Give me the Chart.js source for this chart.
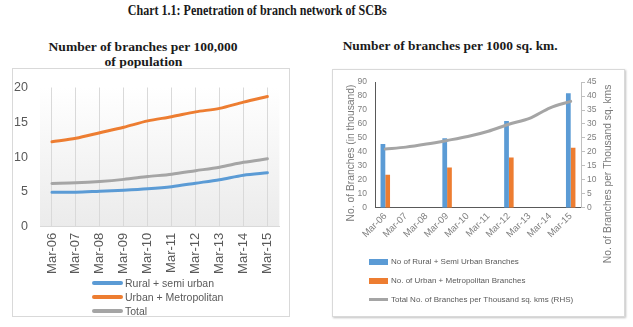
<!DOCTYPE html>
<html><head><meta charset="utf-8">
<script src="https://cdn.jsdelivr.net/npm/chart.js@4.4.1/dist/chart.umd.min.js"></script>
<style>
html,body{margin:0;padding:0;background:#fff;}
body{position:relative;width:633px;height:327px;overflow:hidden;font-family:"Liberation Sans",Arial,sans-serif;}
.ttl{position:absolute;white-space:nowrap;font-family:"Liberation Serif",serif;font-weight:bold;color:#1a1a1a;transform-origin:center center;}
.frame{position:absolute;box-sizing:border-box;border:1px solid #d9d9d9;}
canvas{position:absolute;}
.lg{position:absolute;white-space:nowrap;color:#595959;}
.sw{position:absolute;}
</style></head><body>
<div class="ttl" data-cx="257.5" data-w="259" style="top:2.5px;font-size:15px;line-height:15px">Chart 1.1: Penetration of branch network of SCBs</div>
<div class="ttl" data-cx="143" data-w="189" style="top:40px;font-size:13.5px;line-height:13.5px">Number of branches per 100,000</div>
<div class="ttl" data-cx="143" data-w="78" style="top:55px;font-size:13.5px;line-height:13.5px">of population</div>
<div class="ttl" data-cx="450.5" data-w="215" style="top:39px;font-size:13.5px;line-height:13.5px">Number of branches per 1000 sq. km.</div>

<div class="frame" style="left:12px;top:68px;width:278px;height:249px"></div>
<div class="frame" style="left:332px;top:69px;width:293px;height:248px;box-shadow:1px 1px 2px rgba(0,0,0,0.25)"></div>
<canvas id="c1" width="277" height="249" style="left:12px;top:68px"></canvas>
<canvas id="c2" width="293" height="248" style="left:332px;top:69px"></canvas>
<div id="lg1"></div>
<div id="lg2"></div>

<script>
// ---- data ----
const categories = ['Mar-06','Mar-07','Mar-08','Mar-09','Mar-10','Mar-11','Mar-12','Mar-13','Mar-14','Mar-15'];
const ruralPerPop = [4.95, 4.95, 5.1, 5.25, 5.45, 5.75, 6.25, 6.75, 7.4, 7.75];
const urbanPerPop = [12.2, 12.7, 13.5, 14.3, 15.2, 15.8, 16.5, 17.0, 17.9, 18.7];
const totalPerPop = [6.2, 6.3, 6.5, 6.8, 7.2, 7.55, 8.05, 8.55, 9.25, 9.75];
const ruralBranches = [45.6, null, null, 49.8, null, null, 62.1, null, null, 82.0];
const urbanBranches = [23.6, null, null, 28.8, null, null, 35.9, null, null, 43.0];
const branchesPerArea = [21.0, 21.7, 22.8, 24.1, 25.5, 27.4, 29.9, 32.0, 35.8, 38.1];
const popTicks = [0, 5, 10, 15, 20];
const branchTicks = [0, 10, 20, 30, 40, 50, 60, 70, 80, 90];
const areaTicks = [0, 5, 10, 15, 20, 25, 30, 35, 40, 45];

// ---- titles fit ----
document.querySelectorAll('.ttl').forEach(el => {
  const w = el.getBoundingClientRect().width;
  el.style.left = (+el.dataset.cx - w / 2) + 'px';
  el.style.transform = 'scaleX(' + (+el.dataset.w / w) + ')';
});

const BLUE = '#5B9BD5', ORANGE = '#ED7D31', GRAY = '#A5A5A5';
const FONT = 'Liberation Sans';

const bgPlugin = {
  id: 'bg',
  beforeDraw(chart) {
    const {ctx, chartArea: a} = chart;
    const g = ctx.createLinearGradient(0, a.top, 0, a.bottom);
    g.addColorStop(0, '#ffffff');
    g.addColorStop(1, '#ebebeb');
    ctx.save();
    ctx.fillStyle = g;
    ctx.fillRect(a.left, a.top, a.right - a.left, a.bottom - a.top);
    ctx.restore();
  }
};

const chart1 = new Chart(document.getElementById('c1'), {
  type: 'line',
  data: {
    labels: categories,
    datasets: [
      {label: 'Rural + semi urban', data: ruralPerPop, borderColor: BLUE, backgroundColor: BLUE},
      {label: 'Urban + Metropolitan', data: urbanPerPop, borderColor: ORANGE, backgroundColor: ORANGE},
      {label: 'Total', data: totalPerPop, borderColor: GRAY, backgroundColor: GRAY}
    ]
  },
  options: {
    responsive: false, animation: false, devicePixelRatio: 1,
    layout: {padding: {top: 13, left: 0, right: 0, bottom: 0}},
    elements: {line: {borderWidth: 3, tension: 0.3, borderCapStyle: 'round'}, point: {radius: 0}},
    plugins: {legend: {display: false}, tooltip: {enabled: false}},
    scales: {
      x: {
        offset: true,
        grid: {display: true, color: '#d9d9d9', drawTicks: false, offset: false},
        border: {display: true, color: '#d9d9d9'},
        ticks: {minRotation: 90, maxRotation: 90, padding: 6, color: '#595959', font: {size: 13, family: FONT}},
        afterFit(s) { s.height = 90.3; }
      },
      y: {
        min: popTicks[0], max: popTicks[popTicks.length - 1],
        ticks: {stepSize: popTicks[1] - popTicks[0], padding: 12, color: '#595959', font: {size: 12.5, family: FONT}},
        grid: {display: false, drawTicks: false},
        border: {display: false},
        afterFit(s) { s.width = 28; }
      }
    }
  },
  plugins: [bgPlugin]
});

const axisTitles = {
  id: 'axisTitles',
  afterDraw(chart) {
    const ctx = chart.ctx;
    ctx.save();
    ctx.fillStyle = '#7a7a7a';
    ctx.font = '10.3px "' + FONT + '"';
    ctx.textAlign = 'center';
    ctx.textBaseline = 'middle';
    const items = [
      [chart.scales.y.left + 19.5, 84, 'No. of Branches (in thousand)'],
      [chart.scales.y1.left + 27.5, 105, 'No. of Branches per Thousand sq. kms']
    ];
    items.forEach(([x, y, t]) => {
      ctx.save(); ctx.translate(x, y); ctx.rotate(-Math.PI / 2); ctx.fillText(t, 0, 0); ctx.restore();
    });
    ctx.restore();
  }
};

const chart2 = new Chart(document.getElementById('c2'), {
  type: 'bar',
  data: {
    labels: categories,
    datasets: [
      {label: 'No of Rural + Semi Urban Branches', data: ruralBranches, backgroundColor: BLUE, yAxisID: 'y', order: 1,
       categoryPercentage: 0.46, barPercentage: 1},
      {label: 'No. of Urban + Metropolitan Branches', data: urbanBranches, backgroundColor: ORANGE, yAxisID: 'y', order: 1,
       categoryPercentage: 0.46, barPercentage: 1},
      {type: 'line', label: 'Total No. of Branches per Thousand sq. kms (RHS)', data: branchesPerArea, yAxisID: 'y1', order: 0,
       borderColor: GRAY, backgroundColor: GRAY, borderWidth: 3, pointRadius: 0, tension: 0.3, borderCapStyle: 'round'}
    ]
  },
  options: {
    responsive: false, animation: false, devicePixelRatio: 1,
    layout: {padding: {top: 11.7, left: 0, right: 0, bottom: 0}},
    plugins: {legend: {display: false}, tooltip: {enabled: false}},
    scales: {
      x: {
        offset: true,
        grid: {display: false, drawTicks: false},
        border: {display: true, color: '#595959'},
        ticks: {minRotation: 45, maxRotation: 45, padding: 3, color: '#7f7f7f', font: {size: 9.5, family: FONT}},
        afterFit(s) { s.height = 109.3; }
      },
      y: {
        position: 'left',
        min: branchTicks[0], max: branchTicks[branchTicks.length - 1],
        ticks: {stepSize: branchTicks[1] - branchTicks[0], padding: 8, color: '#7f7f7f', font: {size: 8.5, family: FONT}},
        grid: {display: false, drawTicks: false},
        border: {display: true, color: '#595959'},
        afterFit(s) { s.width = 43; }
      },
      y1: {
        position: 'right',
        min: areaTicks[0], max: areaTicks[areaTicks.length - 1],
        ticks: {stepSize: areaTicks[1] - areaTicks[0], padding: 2, color: '#7f7f7f', font: {size: 8.5, family: FONT}},
        grid: {drawOnChartArea: false, drawTicks: true, tickLength: 4, color: '#bfbfbf'},
        border: {display: true, color: '#bfbfbf'},
        afterFit(s) { s.width = 44; }
      }
    }
  },
  plugins: [axisTitles]
});

// ---- HTML legends built from datasets ----
function buildLegend(host, chart, cfg) {
  chart.data.datasets.forEach((ds, i) => {
    const cy = cfg.rows[i];
    const isLine = (ds.type || chart.config.type) === 'line';
    const sw = document.createElement('div');
    sw.className = 'sw';
    const h = isLine ? cfg.lineH : cfg.boxH;
    sw.style.cssText = 'left:' + cfg.swX + 'px;top:' + (cy - h / 2) + 'px;width:' + cfg.swW + 'px;height:' + h + 'px;background:' + (ds.borderColor && isLine ? ds.borderColor : ds.backgroundColor) + ';' + (isLine && cfg.round ? 'border-radius:2px;' : '');
    host.appendChild(sw);
    const t = document.createElement('div');
    t.className = 'lg';
    t.textContent = ds.label;
    t.style.cssText = 'left:' + cfg.txtX + 'px;top:' + (cy - cfg.lh / 2) + 'px;font-size:' + cfg.fs + 'px;line-height:' + cfg.lh + 'px;';
    host.appendChild(t);
  });
}
buildLegend(document.getElementById('lg1'), chart1, {rows: [283, 297, 310.5], swX: 92, swW: 31, lineH: 4, boxH: 4, txtX: 125, fs: 10.5, lh: 12, round: true});
buildLegend(document.getElementById('lg2'), chart2, {rows: [261.5, 281, 299.5], swX: 369, swW: 19, lineH: 3, boxH: 6, txtX: 391, fs: 8, lh: 10, round: false});
</script>
</body></html>
